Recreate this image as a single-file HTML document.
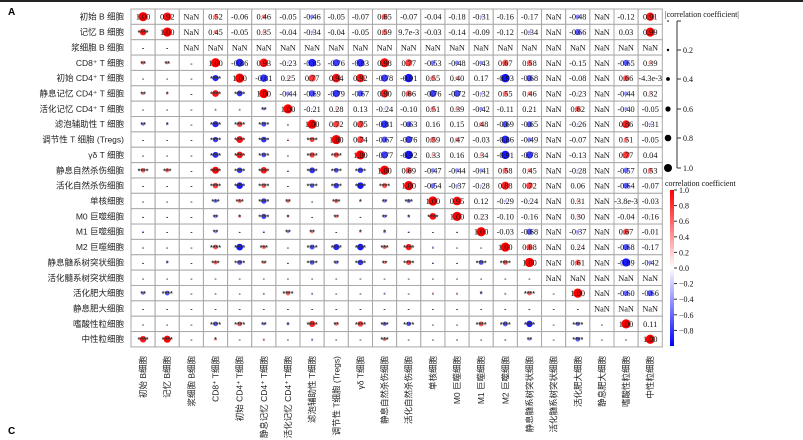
<!DOCTYPE html>
<html><head><meta charset="utf-8"><style>
body{margin:0;background:#fff}
svg{display:block}
.n{font-family:"Liberation Serif",serif;font-size:8.3px;fill:#111}
.s{font-family:"Liberation Sans",sans-serif;font-size:7px;fill:#333;font-weight:bold}
.l{font-family:"Liberation Sans","Noto Sans CJK SC",sans-serif;font-size:8.5px;fill:#222}
.lg{font-family:"Liberation Serif",serif;font-size:8px;fill:#111}
</style></head><body>
<svg id="c" width="803" height="440" xmlns="http://www.w3.org/2000/svg"></svg>
<script>
const N=NaN;
const labels=["初始 B 细胞","记忆 B 细胞","浆细胞 B 细胞","CD8⁺ T 细胞","初始 CD4⁺ T 细胞","静息记忆 CD4⁺ T 细胞","活化记忆 CD4⁺ T 细胞","滤泡辅助性 T 细胞","调节性 T 细胞 (Tregs)","γδ T 细胞","静息自然杀伤细胞","活化自然杀伤细胞","单核细胞","M0 巨噬细胞","M1 巨噬细胞","M2 巨噬细胞","静息髓系树突状细胞","活化髓系树突状细胞","活化肥大细胞","静息肥大细胞","嗜酸性粒细胞","中性粒细胞"];
const up=[
[1,0.92,N,0.52,-0.06,0.46,-0.05,-0.46,-0.05,-0.07,0.65,-0.07,-0.04,-0.18,-0.31,-0.16,-0.17,N,-0.48,N,-0.12,0.91],
[1,N,0.45,-0.05,0.35,-0.04,-0.34,-0.04,-0.05,0.59,0.0097,-0.03,-0.14,-0.09,-0.12,-0.34,N,-0.66,N,0.03,0.99],
[N,N,N,N,N,N,N,N,N,N,N,N,N,N,N,N,N,N,N,N],
[1,-0.86,0.93,-0.23,-0.85,-0.76,-0.83,0.98,0.77,-0.53,-0.48,-0.43,0.67,0.58,N,-0.15,N,-0.65,0.39],
[1,-0.81,0.25,0.77,0.94,0.92,-0.78,-0.91,0.55,0.40,0.17,-0.93,-0.68,N,-0.08,N,0.66,-0.0043],
[1,-0.44,-0.69,-0.79,-0.67,0.90,0.66,-0.76,-0.72,-0.32,0.55,0.46,N,-0.23,N,-0.44,0.32],
[1,-0.21,0.28,0.13,-0.24,-0.10,0.51,0.39,-0.42,-0.11,0.21,N,0.62,N,-0.40,-0.05],
[1,0.72,0.75,-0.81,-0.63,0.16,0.15,0.48,-0.69,-0.65,N,-0.26,N,0.86,-0.31],
[1,0.74,-0.67,-0.76,0.59,0.47,-0.03,-0.86,-0.49,N,-0.07,N,0.51,-0.05],
[1,-0.77,-0.92,0.33,0.16,0.34,-0.91,-0.78,N,-0.13,N,0.77,0.04],
[1,0.69,-0.47,-0.44,-0.41,0.58,0.45,N,-0.28,N,-0.57,0.53],
[1,-0.54,-0.37,-0.28,0.88,0.72,N,0.06,N,-0.64,-0.07],
[1,0.95,0.12,-0.29,-0.24,N,0.31,N,-0.0038,-0.03],
[1,0.23,-0.10,-0.16,N,0.30,N,-0.04,-0.16],
[1,-0.03,-0.68,N,-0.37,N,0.67,-0.01],
[1,0.68,N,0.24,N,-0.68,-0.17],
[1,N,0.61,N,-0.89,-0.42],
[N,N,N,N,N],
[1,N,-0.60,-0.66],
[N,N,N],
[1,0.11],
[1]];
const n=22,M=[];
for(let i=0;i<n;i++){M.push([]);}
for(let i=0;i<n;i++){const row=up[i];for(let k=0;k<row.length;k++){const j=i+k;M[i][j]=row[k];M[j][i]=row[k];}}
const X0=131,Y0=9,CW=24.15,CH=15.36;
let s='<rect x="0" y="0" width="803" height="2" fill="#222"/>';
function col(r){const a=Math.min(1,Math.abs(r));const g=Math.round(255*(1-a));return r>=0?`rgb(255,${g},${g})`:`rgb(${g},${g},255)`;}
function fmt(v){if(isNaN(v))return 'NaN';if(v===1)return '1.00';if(Math.abs(v)<0.01&&v!==0){return v.toExponential(1).replace('e-0','e-').replace('e-','e-');}return v.toFixed(2);}
function stars(v){const a=Math.abs(v);if(isNaN(v))return '-';if(a>=0.6)return '****';if(a>=0.53)return '***';if(a>=0.42)return '**';if(a>=0.33)return '*';return '-';}
for(let i=0;i<n;i++)for(let j=0;j<n;j++){
 const x=X0+j*CW,y=Y0+i*CH,cx=x+CW/2,cy=y+CH/2,v=M[i][j];
 s+=`<rect x="${x}" y="${y}" width="${CW}" height="${CH}" fill="#fff" stroke="#a8a8a8" stroke-width="1"/>`;
 if(!isNaN(v)){const rr=(j>=i?4.6:3.6)*Math.abs(v);s+=`<circle cx="${cx}" cy="${cy}" r="${rr.toFixed(2)}" fill="${col(v)}"/>`;}
 if(j>=i){s+=`<text class="n" x="${cx}" y="${cy+3}" text-anchor="middle">${fmt(v)}</text>`;}
 else{s+=`<text class="s" x="${cx}" y="${cy+3}" text-anchor="middle">${stars(v)}</text>`;}
}
for(let i=0;i<n;i++){
 s+=`<text class="l" x="124" y="${Y0+i*CH+CH/2+3}" text-anchor="end">${labels[i]}</text>`;
 const cx=X0+i*CW+CW/2+3;
 s+=`<text class="l" transform="translate(${cx},356) rotate(-90)" text-anchor="end">${labels[i].replace(/ (?=细胞)/,'')}</text>`;
}
s+='<text x="8" y="15" font-family="Liberation Sans,sans-serif" font-weight="bold" font-size="10">A</text>';
s+='<text x="8" y="434" font-family="Liberation Sans,sans-serif" font-weight="bold" font-size="10">C</text>';
s+='<text class="lg" x="665" y="17">|correlation coefficient|</text>';
s+='<line x1="677" y1="21" x2="677" y2="168" stroke="#333" stroke-width="1"/>';
[[0.2,50],[0.4,79],[0.6,109],[0.8,138],[1.0,168]].forEach(([v,y])=>{s+=`<circle cx="668" cy="${y}" r="${(0.5+v*3.5).toFixed(1)}" fill="#000"/><line x1="677" y1="${y}" x2="681" y2="${y}" stroke="#333"/><text class="lg" x="683" y="${y+3}">${v.toFixed(1)}</text>`;});
s+='<circle cx="668" cy="21" r="0.8" fill="#000"/><line x1="677" y1="21" x2="681" y2="21" stroke="#333"/>';
s+='<text class="lg" x="665" y="186">correlation coefficient</text>';
s+='<defs><linearGradient id="g" x1="0" y1="0" x2="0" y2="1"><stop offset="0" stop-color="#f00"/><stop offset="0.5" stop-color="#fff"/><stop offset="1" stop-color="#00f"/></linearGradient></defs>';
s+='<rect x="670" y="190" width="4" height="156" fill="url(#g)"/>';
for(let k=0;k<10;k++){const v=1-0.2*k;const y=190+k*15.6;const t=v.toFixed(1)==='-0.0'?'0.0':v.toFixed(1);s+=`<line x1="674" y1="${y}" x2="677" y2="${y}" stroke="#333"/><text class="lg" x="679" y="${y+3}">${t.replace('-','−')}</text>`;}
document.getElementById('c').innerHTML=s;
</script>
</body></html>
